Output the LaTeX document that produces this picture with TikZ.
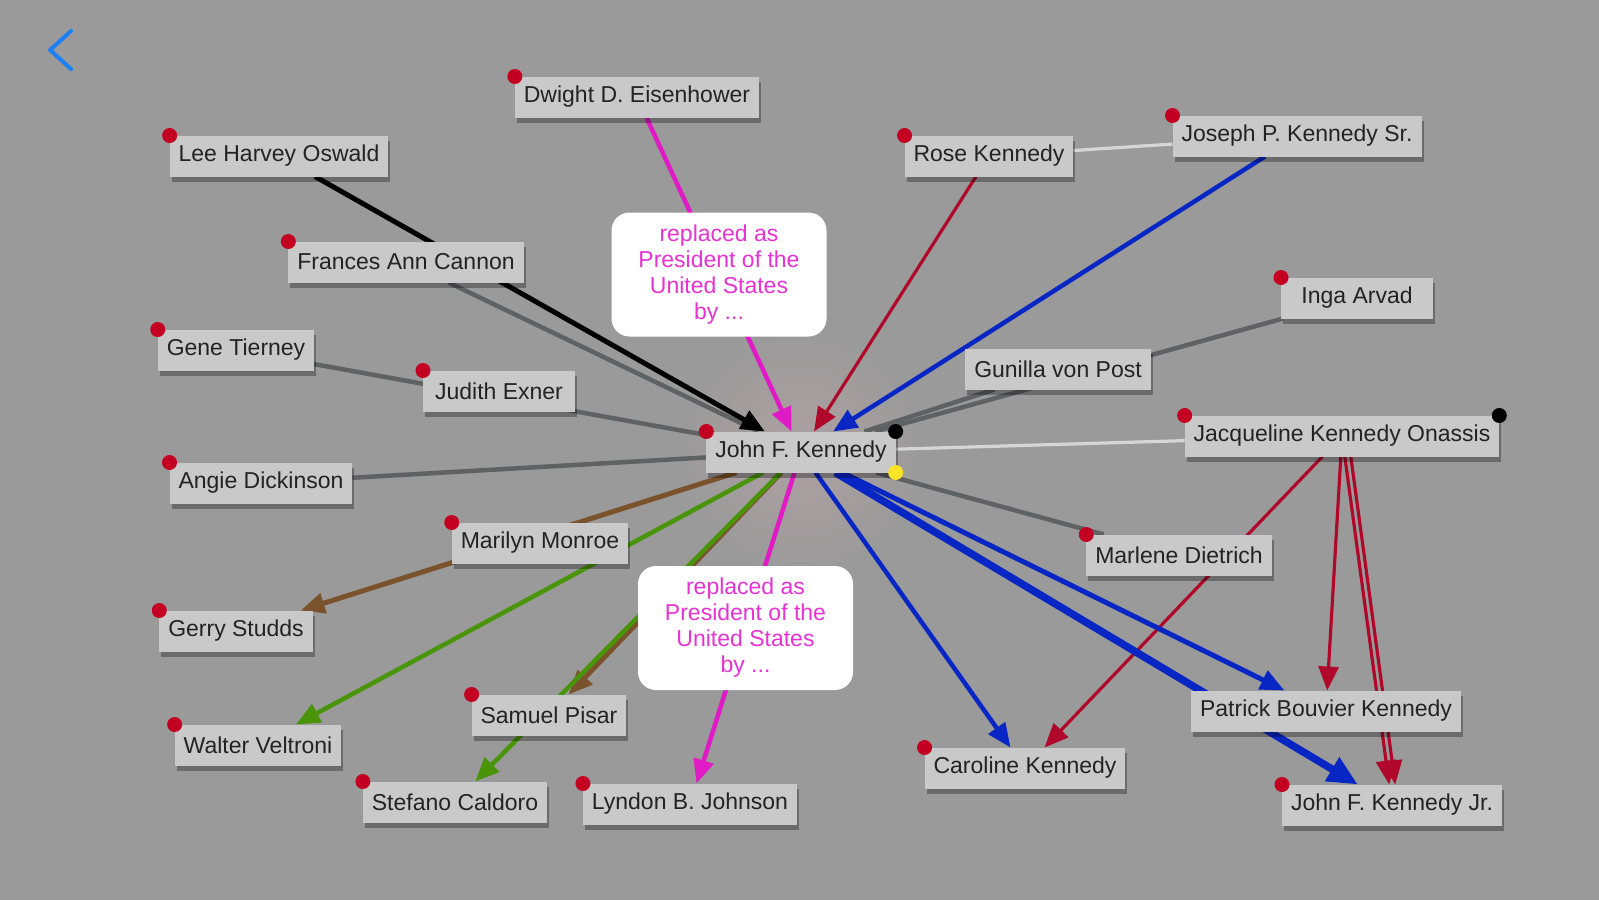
\documentclass[tikz,border=0pt]{standalone}
\usepackage{fontspec}
\setmainfont{Liberation Sans}
\usepackage{tikz}
\usepackage{tkz-graph}
\usetikzlibrary{shapes,backgrounds,shadows,arrows.meta}

\pgfdeclarelayer{edgelayer}
\pgfsetlayers{background,edgelayer,main}

\definecolor{paper}{RGB}{154,154,154}
\definecolor{halo}{RGB}{174,160,162}
\definecolor{boxgrey}{RGB}{201,201,201}
\definecolor{inkdark}{RGB}{35,35,35}
\definecolor{edgeGrey}{RGB}{94,98,98}
\definecolor{edgeLight}{RGB}{214,214,214}
\definecolor{edgeRed}{RGB}{176,8,42}
\definecolor{edgeBlue}{RGB}{8,38,196}
\definecolor{edgeGreen}{RGB}{74,148,10}
\definecolor{edgeBrown}{RGB}{122,82,44}
\definecolor{edgeMagenta}{RGB}{224,26,196}
\definecolor{labelPink}{RGB}{232,50,212}
\definecolor{dotRed}{RGB}{196,0,34}
\definecolor{dotYellow}{RGB}{250,228,40}
\definecolor{backBlue}{RGB}{30,128,245}

\newcommand{\namefont}{\fontsize{23}{26}\selectfont}

\begin{document}
\begin{tikzpicture}[x=1pt,y=-1pt]
        \GraphInit[vstyle=normal]
        \tikzset{
          VertexStyle/.style={shape=rectangle, fill=boxgrey, draw=none, text=inkdark,
            font=\namefont, inner xsep=9pt, inner ysep=0pt, minimum height=41pt,
            minimum width=152pt,
            drop shadow={shadow xshift=2pt, shadow yshift=-5pt, opacity=.3, fill=black}},
          whitebox/.style={fill=white},
          EdgeStyle/.style={line width=4.5pt},
          LabelStyle/.style={fill=white, rounded corners=18pt, text=labelPink,
            font=\namefont, align=center, minimum width=215pt, minimum height=124pt,
            inner sep=4pt},
          arrowtip/.style={-{Triangle[length=24pt,width=20pt]}},
          bigtip/.style={-{Triangle[length=30pt,width=26pt]}},
          thin/.style={EdgeStyle/.append style={line width=3.2pt}},
          heavy/.style={EdgeStyle/.append style={line width=5pt}},
          thick/.style={EdgeStyle/.append style={line width=7.5pt}},
          reddot/.style={fill=dotRed}
        }
        \useasboundingbox (0,0) rectangle (1599,900);
        \begin{pgfonlayer}{background}
          \fill[paper] (0,0) rectangle (1599,900);
        \end{pgfonlayer}
        % back button
        \draw[backBlue, line width=4pt, line cap=round, line join=round]
          (71,31) -- (50,50) -- (71,69);
        % people
        \Vertex[x=801,y=452,L={John F. Kennedy},style={whitebox}]{JFK}
        \Vertex[x=637,y=97,L={Dwight D. Eisenhower},style={whitebox}]{DDE}
        \Vertex[x=690,y=804,L={Lyndon B. Johnson},style={whitebox}]{LBJ}
        \Vertex[x=279,y=156,L={Lee Harvey Oswald}]{LHO}
        \Vertex[x=406,y=262,L={Frances Ann Cannon}]{FAC}
        \Vertex[x=236,y=350,L={Gene Tierney}]{GT}
        \Vertex[x=499,y=391,L={Judith Exner}]{JE}
        \Vertex[x=261,y=483,L={Angie Dickinson}]{AD}
        \Vertex[x=540,y=543,L={Marilyn Monroe}]{MM}
        \Vertex[x=236,y=631,L={Gerry Studds}]{GS}
        \Vertex[x=258,y=745,L={Walter Veltroni}]{WV}
        \Vertex[x=549,y=715,L={Samuel Pisar}]{SP}
        \Vertex[x=455,y=802,L={Stefano Caldoro}]{SC}
        \Vertex[x=989,y=156,L={Rose Kennedy}]{RK}
        \Vertex[x=1297,y=136,L={Joseph P. Kennedy Sr.}]{JPK}
        \Vertex[x=1357,y=298,L={Inga Arvad}]{IA}
        \Vertex[x=1058,y=369,L={Gunilla von Post}]{GvP}
        \Vertex[x=1342,y=436,L={Jacqueline Kennedy Onassis}]{JKO}
        \Vertex[x=1179,y=555,L={Marlene Dietrich}]{MD}
        \Vertex[x=1326,y=711,L={Patrick Bouvier Kennedy}]{PBK}
        \Vertex[x=1025,y=768,L={Caroline Kennedy}]{CK}
        \Vertex[x=1392,y=805,L={John F. Kennedy Jr.}]{JFKJr}
        \foreach \v in {JFK,DDE,LBJ,LHO,FAC,GT,JE,AD,MM,GS,WV,SP,SC,RK,JPK,IA,JKO,MD,CK,JFKJr}
          \fill[reddot] (\v.north west) circle (7.5pt);
        \fill[black] (JFK.north east) circle (7.5pt);
        \fill[dotYellow] (JFK.south east) circle (7.5pt);
        \fill[black] (JKO.north east) circle (7.5pt);
        \begin{pgfonlayer}{background}
          \shade[inner color=halo, outer color=paper] (JFK) circle (125pt);
        \end{pgfonlayer}
        % relations
        \begin{pgfonlayer}{edgelayer}
        \Edge[color=edgeGrey](FAC)(JFK)
        \Edge[color=edgeGrey](GT)(JFK)
        \Edge[color=edgeGrey](AD)(JFK)
        \Edge[color=edgeGrey](GvP)(JFK)
        \Edge[color=edgeGrey](IA)(JFK)
        \Edge[color=edgeGrey](MD)(JFK)
        \begin{scope}[thin]
        \Edge[color=edgeLight](RK)(JPK)
        \Edge[color=edgeLight](JKO)(JFK)
        \Edge[color=edgeRed,style={arrowtip}](RK)(JFK)
        \Edge[color=edgeRed,style={arrowtip}](JKO)(CK)
        \Edge[color=edgeRed,style={arrowtip}](JKO)(PBK)
        \Edge[color=edgeRed,style={arrowtip}](JKO)(JFKJr)
        \Edge[color=edgeRed,style={arrowtip, transform canvas={xshift=6pt}}](JKO)(JFKJr)
        \end{scope}
        \begin{scope}[heavy]
        \Edge[color=black,style={arrowtip}](LHO)(JFK)
        \Edge[color=edgeBrown,style={arrowtip}](JFK)(GS)
        \Edge[color=edgeBrown,style={arrowtip}](JFK)(SP)
        \Edge[color=edgeBlue,style={arrowtip}](JFK)(PBK)
        \end{scope}
        \Edge[color=edgeBlue,style={arrowtip}](JPK)(JFK)
        \Edge[color=edgeGreen,style={arrowtip}](JFK)(WV)
        \Edge[color=edgeGreen,style={arrowtip}](JFK)(SC)
        \Edge[color=edgeBlue,style={arrowtip}](JFK)(CK)
        \begin{scope}[thick]
        \Edge[color=edgeBlue,style={bigtip}](JFK)(JFKJr)
        \end{scope}
        \Edge[color=edgeMagenta,style={arrowtip},label={replaced as\\President of the\\United States\\by ...}](DDE)(JFK)
        \Edge[color=edgeMagenta,style={arrowtip},label={replaced as\\President of the\\United States\\by ...}](JFK)(LBJ)
        \end{pgfonlayer}
    \end{tikzpicture}
\end{document}
